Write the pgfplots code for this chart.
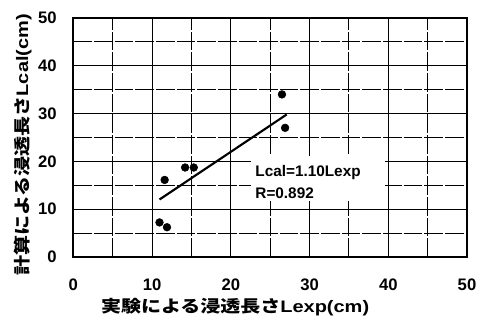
\documentclass[border=0pt]{standalone}
\usepackage{pgfplots}
\pgfplotsset{compat=1.18}
\usepackage{graphicx}
\usepackage{fontspec}
\setmainfont{Liberation Sans}
\newfontfamily\cjk{Noto Sans CJK JP}
\newcommand{\wide}[1]{\scalebox{1.2}[1]{#1}}
\begin{document}
\begin{tikzpicture}
\path[use as bounding box] (-55pt,-51pt) rectangle (308.25pt,192.75pt);
\begin{axis}[
  at={(0,0)}, anchor=south west,
  scale only axis, width=295.5pt, height=179.25pt,
  xmin=0, xmax=50, ymin=0, ymax=50,
  xtick={0,10,...,50}, ytick={0,10,...,50},
  minor x tick num=1, minor y tick num=1,
  grid=both,
  major grid style={black, line width=0.6pt},
  minor grid style={black, line width=0.6pt, dash pattern=on 14pt off 1.5pt},
  major tick length=0pt, minor tick length=0pt,
  axis line style={line width=1.4pt},
  /pgf/number format/assume math mode=true,
  tick label style={font=\fontsize{12.5}{14}\selectfont\bfseries},
  xticklabel style={yshift=-13pt},
  yticklabel style={xshift=-9pt},
  clip=false,
]
\addplot[only marks, mark=*, mark size=2.9pt, black] coordinates {
  (26.5,34.0) (26.9,27.0) (14.2,18.7) (15.3,18.7) (11.6,16.1) (10.95,7.2) (11.9,6.2)
};
\addplot[black, line width=1.6pt] coordinates {(10.95,12.0) (27.1,29.8)};
\node[fill=white, anchor=north west, inner sep=0pt, minimum width=101pt, minimum height=34pt] at (axis cs:22.5,21.2) {};
\node[anchor=west, font=\fontsize{11.5}{12}\selectfont\bfseries, inner sep=0pt] at (axis cs:23.1,17.6) {Lcal=1.10Lexp};
\node[anchor=west, font=\fontsize{11.5}{12}\selectfont\bfseries, inner sep=0pt] at (axis cs:23.1,13.4) {R=0.892};
\node[font=\fontsize{12.5}{14}\selectfont\bfseries] at ([yshift=-38pt]rel axis cs:0.411,0) {\wide{{\cjk 実験による浸透長さ}Lexp(cm)}};
\node[font=\fontsize{12.5}{14}\selectfont\bfseries, rotate=90] at ([xshift=-38pt]rel axis cs:0,0.469) {\wide{{\cjk 計算による浸透長さ}Lcal(cm)}};
\end{axis}
\end{tikzpicture}
\end{document}
